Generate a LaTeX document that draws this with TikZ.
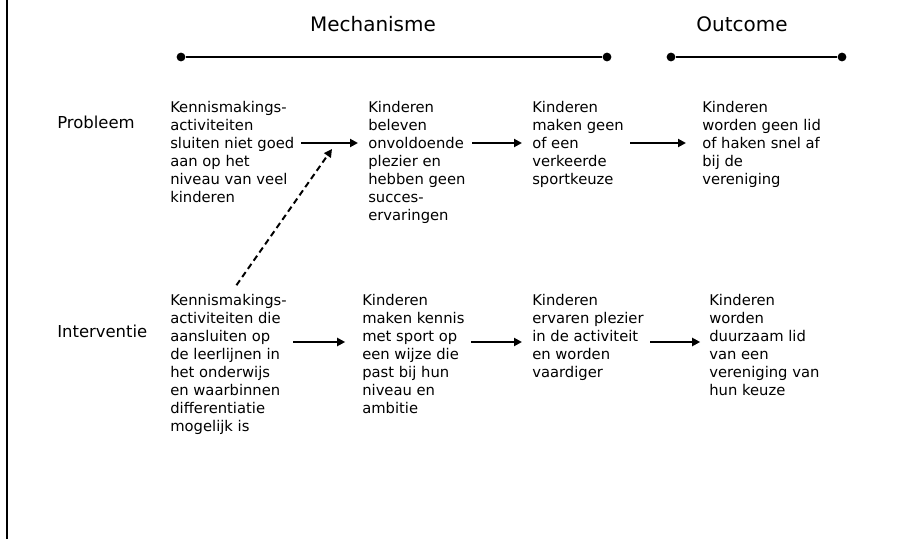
\documentclass[tikz,border=0pt]{standalone}
\usepackage{fontspec}
\setmainfont{DejaVu Sans}
\usetikzlibrary{arrows.meta, positioning}

\begin{document}
\begin{tikzpicture}[
    box/.style={anchor=north west, inner sep=0pt, align=left, font=\fontsize{10.5}{12.8}\selectfont},
    rowlabel/.style={anchor=base west, inner sep=0pt, font=\fontsize{11.7}{14}\selectfont},
    head/.style={anchor=base, inner sep=0pt, font=\fontsize{14.2}{17}\selectfont},
    dot/.style={circle, fill=black, inner sep=0pt, minimum size=0.22cm},
    flow/.style={-{Triangle[length=0.2cm,width=0.2cm]}, line width=1.4pt, shorten <=0.16cm},
    hint/.style={-{Triangle[length=0.2cm,width=0.2cm]}, line width=1.4pt, dash pattern=on 4.3pt off 2.8pt}
]
    \useasboundingbox (0,0) rectangle (22.5,13.475);
    \draw[line width=1pt] (0.175,0) -- (0.175,13.475);

    % headings
    \node[head, name=mech] at(9.325,12.675) {Mechanisme};
    \node[head, name=outc] at(18.55,12.675) {Outcome};
    \node[dot, name=m1] at(4.525,12.05) {};
    \node[dot, name=m2] at(15.175,12.05) {};
    \node[dot, name=o1] at(16.775,12.05) {};
    \node[dot, name=o2] at(21.05,12.05) {};
    \draw[line width=1.4pt] (m1) -- (m2);
    \draw[line width=1.4pt] (o1) -- (o2);

    \node[rowlabel, name=prob] at(1.425,10.25) {Probleem};
    \node[rowlabel, name=interv] at(1.425,5.05) {Interventie};
    \coordinate (p) at (0,9.9);
    \coordinate (i) at (0,4.925);

    % probleem
    \node[box, name=A1] at(4.25,10.95) {Kennismakings-\\activiteiten\\sluiten niet goed\\aan op het\\niveau van veel\\kinderen};
    \node[box, name=B1] at(9.2,10.95) {Kinderen\\beleven\\onvoldoende\\plezier en\\hebben geen\\succes-\\ervaringen};
    \node[box, name=C1] at(13.3,10.95) {Kinderen\\maken geen\\of een\\verkeerde\\sportkeuze};
    \node[box, name=D1] at(17.55,10.95) {Kinderen\\worden geen lid\\of haken snel af\\bij de\\vereniging};

    % interventie
    \node[box, name=A2] at(4.25,6.125) {Kennismakings-\\activiteiten die\\aansluiten op\\de leerlijnen in\\het onderwijs\\en waarbinnen\\differentiatie\\mogelijk is};
    \node[box, name=B2] at(9.05,6.125) {Kinderen\\maken kennis\\met sport op\\een wijze die\\past bij hun\\niveau en\\ambitie};
    \node[box, name=C2] at(13.3,6.125) {Kinderen\\ervaren plezier\\in de activiteit\\en worden\\vaardiger};
    \node[box, name=D2] at(17.725,6.125) {Kinderen\\worden\\duurzaam lid\\van een\\vereniging van\\hun keuze};

    \draw[flow, shorten >=0.25cm] (A1.east |- p) -- (B1.west |- p);
    \draw[flow, shorten >=0.25cm] (B1.east |- p) -- (C1.west |- p);
    \draw[flow, shorten >=0.4cm] (C1.east |- p) -- (D1.west |- p);

    \draw[flow, shorten >=0.42cm] (A2.east |- i) -- (B2.west |- i);
    \draw[flow, shorten >=0.25cm] (B2.east |- i) -- (C2.west |- i);
    \draw[flow, shorten >=0.22cm] (C2.east |- i) -- (D2.west |- i);

    \coordinate (hit) at (8.3,9.75);
    \draw[hint] ([xshift=0.2cm,yshift=0.22cm]A2.north) -- (hit);
\end{tikzpicture}
\end{document}
